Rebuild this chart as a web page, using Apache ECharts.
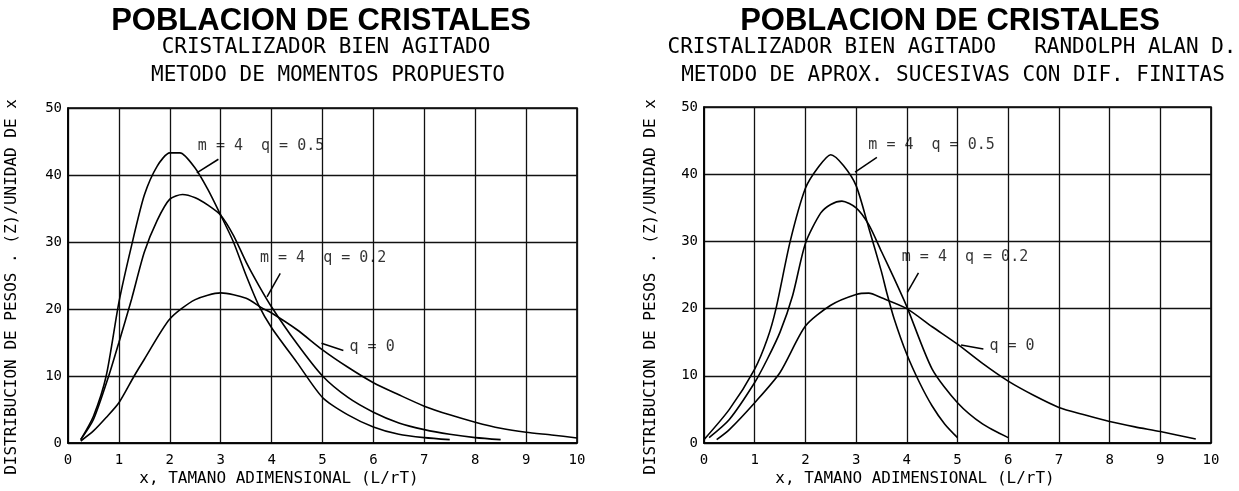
<!DOCTYPE html>
<html><head><meta charset="utf-8">
<script src="https://cdn.jsdelivr.net/npm/echarts@6/dist/echarts.min.js"></script>
<style>html,body{margin:0;padding:0;background:#fff}#c{width:1239px;height:491px}</style>
</head><body><div id="c"></div>
<script>
// ---- text ----
const mainTitle = 'POBLACION DE CRISTALES';
const leftSub = ['CRISTALIZADOR BIEN AGITADO', 'METODO DE MOMENTOS PROPUESTO'];
const rightSub = ['CRISTALIZADOR BIEN AGITADO   RANDOLPH ALAN D.', 'METODO DE APROX. SUCESIVAS CON DIF. FINITAS'];
const yName = 'DISTRIBUCION DE PESOS . (Z)/UNIDAD DE x';
const xName = 'x, TAMANO ADIMENSIONAL (L/rT)';
const curveLabels = ['m = 4  q = 0.5', 'm = 4  q = 0.2', 'q = 0'];

// ---- left: metodo de momentos propuesto ----
const momQ05 = [[0.25,0.5],[0.5,4],[0.75,10],[1,21],[1.25,29.5],[1.5,37],[1.75,41.3],[2,43.3],[2.2,43.3],[2.5,41],[2.75,37.8],[3,34],[3.25,30],[3.5,25],[3.75,20.5],[4,17.2],[4.5,12],[5,6.8],[5.5,4.2],[6,2.4],[6.5,1.3],[7,0.8],[7.5,0.5]];
const momQ02 = [[0.25,0.5],[0.5,3.5],[0.8,10],[1,15],[1.25,21.5],[1.5,28.5],[1.75,33.2],[2,36.4],[2.25,37.1],[2.5,36.6],[2.75,35.5],[3,34],[3.25,31],[3.5,27],[3.75,23.5],[4,20.3],[4.5,14.8],[5,10],[5.5,6.8],[6,4.6],[6.5,3],[7,2],[7.5,1.3],[8,0.8],[8.5,0.5]];
const momQ0 = [[0.25,0.3],[0.5,1.8],[0.75,3.8],[1,6],[1.3,10],[1.5,12.5],[2,18.5],[2.5,21.4],[3,22.4],[3.5,21.6],[3.8,20.2],[4,19.4],[4.5,16.9],[5,13.9],[5.5,11.3],[6,9],[6.5,7.2],[7,5.5],[7.5,4.2],[8,3.1],[8.5,2.2],[9,1.6],[9.5,1.2],[10,0.75]];
const momLabelAt = [[2.55,44.3],[3.77,27.6],[5.53,14.3]];
const momLeaders = [[[2.955,42.35],[2.53,40.3]],[[4.17,25.3],[3.91,21.8]],[[5.41,13.8],[4.98,14.9]]];

// ---- right: aprox. sucesivas con dif. finitas ----
const fdQ05 = [[0,0.5],[0.5,5],[1,11],[1.25,15.5],[1.42,20],[1.7,30],[2,37.9],[2.25,41],[2.5,42.9],[2.75,41.3],[3,38.3],[3.25,32],[3.5,25.5],[3.6,22.5],[3.75,18.5],[4,13.2],[4.25,9],[4.5,5.5],[4.75,2.8],[5,0.8]];
const fdQ02 = [[0.1,0.8],[0.5,3.5],[1,9],[1.25,12.5],[1.5,16.5],[1.75,22],[2,29.7],[2.3,34.2],[2.5,35.5],[2.72,36],[3,35],[3.25,32.5],[3.5,28.5],[3.75,24.5],[4,20.3],[4.5,11],[5,6],[5.5,2.8],[6,0.8]];
const fdQ0 = [[0.25,0.5],[0.5,2],[1,6],[1.5,10.5],[2,17.4],[2.5,20.5],[3,22.1],[3.25,22.3],[3.5,21.6],[4,20],[4.5,17.3],[5,14.7],[5.5,11.8],[6,9.2],[6.5,7.1],[7,5.3],[7.5,4.2],[8,3.2],[8.5,2.4],[9,1.7],[9.7,0.6]];
const fdLabelAt = [[3.24,44.3],[3.90,27.6],[5.63,14.4]];
const fdLeaders = [[[3.41,42.5],[2.98,40.3]],[[4.23,25.3],[4.01,22.4]],[[5.51,14.0],[5.07,14.6]]];

const X_MIN = 0, X_MAX = 10, X_STEP = 1;
const Y_MIN = 0, Y_MAX = 50, Y_STEP = 10;

const MONO = '"DejaVu Sans Mono", monospace';
const chart = echarts.init(document.getElementById('c'), null, {renderer: 'canvas'});

function xAx(i) {
  return {
    type: 'value', gridIndex: i, min: X_MIN, max: X_MAX, interval: X_STEP,
    axisLine: {show: true, lineStyle: {color: '#000', width: 1.6}},
    axisTick: {show: false},
    splitLine: {show: true, lineStyle: {color: '#111', width: 1.3}},
    axisLabel: {color: '#000', fontFamily: MONO, fontSize: 14, margin: 10}
  };
}
function yAx(i) {
  return {
    type: 'value', gridIndex: i, min: Y_MIN, max: Y_MAX, interval: Y_STEP,
    axisLine: {show: true, lineStyle: {color: '#000', width: 1.6}},
    axisTick: {show: false},
    splitLine: {show: true, lineStyle: {color: '#111', width: 1.3}},
    axisLabel: {color: '#000', fontFamily: MONO, fontSize: 14, margin: 6}
  };
}
function curve(data, i) {
  return {
    type: 'line', xAxisIndex: i, yAxisIndex: i, data: data, smooth: 0.25,
    showSymbol: false, symbol: 'none', silent: true,
    lineStyle: {color: '#000', width: 1.6}
  };
}
function notes(at, leaders, i) {
  return {
    type: 'scatter', xAxisIndex: i, yAxisIndex: i, symbolSize: 0.1, silent: true,
    data: at.map((p, k) => ({value: p, name: curveLabels[k]})),
    label: {show: true, position: 'right', distance: 0, formatter: '{b}',
            color: '#000', fontFamily: MONO, fontSize: 15},
    markLine: {silent: true, symbol: ['none', 'none'], label: {show: false},
      lineStyle: {color: '#000', width: 1.5, type: 'solid'},
      data: leaders.map(l => [{coord: l[0]}, {coord: l[1]}])}
  };
}
function txt(x, y, s, font, rot) {
  return {type: 'text', x: x, y: y, rotation: rot || 0, silent: true,
    style: {text: s, font: font, fill: '#000', align: 'center', verticalAlign: 'middle',
            textAlign: 'center', textVerticalAlign: 'middle'}};
}

const TITLE_FONT = 'bold 31px "Liberation Sans", sans-serif';
const SUB_FONT = '21px ' + MONO;
const NAME_FONT = '16px ' + MONO;

chart.setOption({
  animation: false,
  backgroundColor: '#fff',
  grid: [
    {left: 68, top: 108, width: 509, height: 335, show: true, borderColor: '#000', borderWidth: 1.6},
    {left: 704, top: 107, width: 507, height: 336, show: true, borderColor: '#000', borderWidth: 1.6}
  ],
  xAxis: [xAx(0), xAx(1)],
  yAxis: [yAx(0), yAx(1)],
  series: [
    curve(momQ05, 0), curve(momQ02, 0), curve(momQ0, 0), notes(momLabelAt, momLeaders, 0),
    curve(fdQ05, 1), curve(fdQ02, 1), curve(fdQ0, 1), notes(fdLabelAt, fdLeaders, 1)
  ],
  graphic: [
    txt(321, 21, mainTitle, TITLE_FONT),
    txt(326, 48, leftSub[0], SUB_FONT),
    txt(328, 76, leftSub[1], SUB_FONT),
    txt(950, 21, mainTitle, TITLE_FONT),
    txt(952, 48, rightSub[0], SUB_FONT),
    txt(953, 76, rightSub[1], SUB_FONT),
    txt(12, 287, yName, NAME_FONT, Math.PI / 2),
    txt(651, 287, yName, NAME_FONT, Math.PI / 2),
    txt(279, 479, xName, NAME_FONT),
    txt(915, 479, xName, NAME_FONT)
  ]
});
</script></body></html>
